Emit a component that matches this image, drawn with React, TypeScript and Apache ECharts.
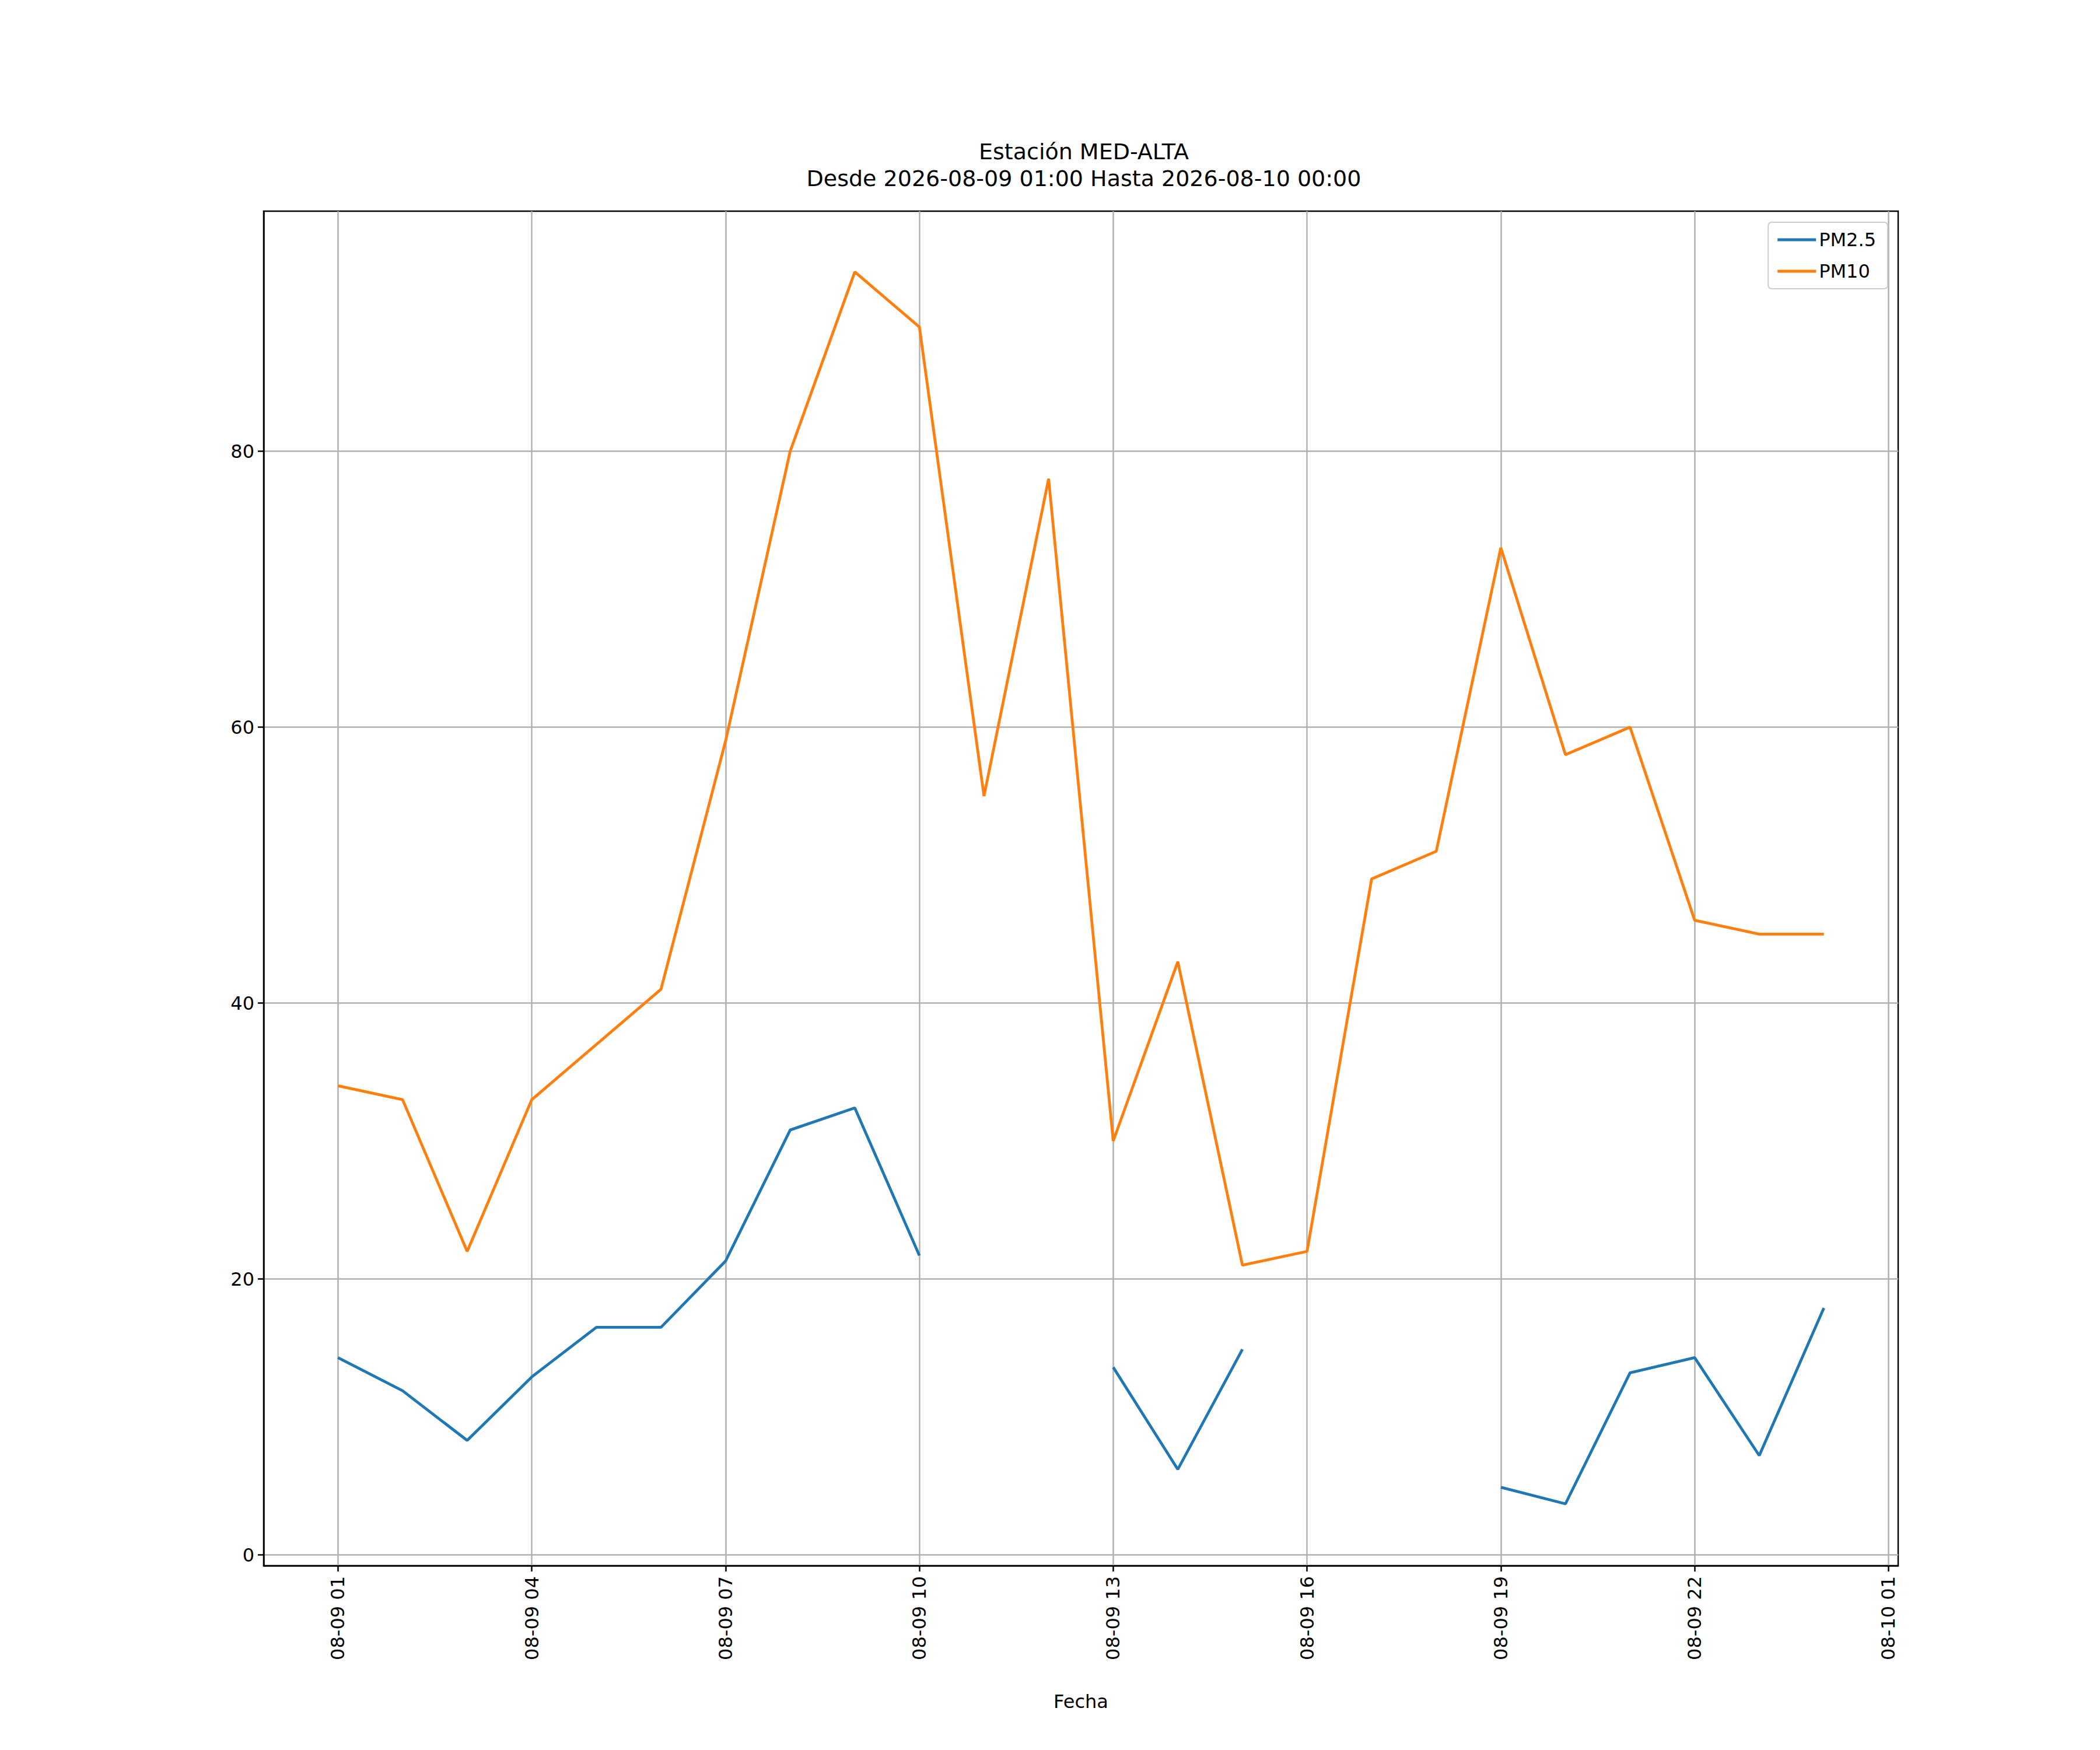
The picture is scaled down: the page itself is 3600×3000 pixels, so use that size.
import { useEffect, useRef } from "react";
import * as echarts from "echarts";

const hours = [1, 2, 3, 4, 5, 6, 7, 8, 9, 10, 11, 12, 13, 14, 15, 16, 17, 18, 19, 20, 21, 22, 23, 24];
const pm25 = [14.3, 11.9, 8.3, 12.9, 16.5, 16.5, 21.3, 30.8, 32.4, 21.7, null, null, 13.6, 6.2, 14.9, null, null, null, 4.9, 3.7, 13.2, 14.3, 7.2, 17.9];
const pm10 = [34, 33, 22, 33, 37, 41, 59, 80, 93, 89, 55, 78, 30, 43, 21, 22, 49, 51, 73, 58, 60, 46, 45, 45];
const xTicks = [1, 4, 7, 10, 13, 16, 19, 22, 25];
const yTicks = [0, 20, 40, 60, 80];

const fmtHour = (h: number) => {
  const day = h >= 24 ? "08-10" : "08-09";
  const hh = h % 24;
  return `${day} ${hh < 10 ? "0" + hh : hh}`;
};

export default function App() {
  const ref = useRef<HTMLDivElement>(null);

  useEffect(() => {
    if (!ref.current) return;
    const chart = echarts.init(ref.current, null, { renderer: "svg" });
    const font = "DejaVu Sans";
    const gridLine = { show: true, lineStyle: { color: "#b0b0b0", width: 2.5 } };
    chart.setOption({
      animation: false,
      backgroundColor: "#fff",
      textStyle: { fontFamily: font },
      title: {
        text: "Estación MED-ALTA\nDesde 2026-08-09 01:00 Hasta 2026-08-10 00:00",
        left: 1845,
        textAlign: "center",
        top: 224,
        textStyle: { fontSize: 38, fontWeight: "normal", color: "#000", lineHeight: 46, fontFamily: font },
      },
      legend: {
        right: 372,
        top: 373,
        orient: "vertical",
        backgroundColor: "#fff",
        borderColor: "#cccccc",
        borderWidth: 2,
        borderRadius: 6,
        padding: [14, 20, 14, 16],
        itemGap: 22,
        itemWidth: 66,
        itemHeight: 5,
        icon: "rect",
        textStyle: { fontSize: 32, color: "#000", fontFamily: font },
        data: ["PM2.5", "PM10"],
      },
      grid: {
        left: 444,
        right: 354,
        top: 354,
        bottom: 324,
        show: true,
        borderColor: "#000",
        borderWidth: 2.5,
        backgroundColor: "transparent",
      },
      xAxis: {
        type: "value",
        min: -0.15,
        max: 25.15,
        name: "Fecha",
        nameLocation: "middle",
        nameGap: 217,
        nameTextStyle: { fontSize: 32, color: "#000", fontFamily: font },
        axisLine: { show: true, onZero: false, lineStyle: { color: "#000", width: 2.5 } },
        axisTick: { show: true, length: 10, customValues: xTicks, lineStyle: { color: "#000", width: 2.5 } },
        axisLabel: {
          customValues: xTicks,
          rotate: 90,
          fontSize: 32,
          color: "#000",
          margin: 18,
          formatter: (v: number) => fmtHour(v),
        },
        splitLine: gridLine,
      },
      yAxis: {
        type: "value",
        min: -0.78,
        max: 97.4,
        axisLine: { show: true, onZero: false, lineStyle: { color: "#000", width: 2.5 } },
        axisTick: { show: true, length: 10, customValues: yTicks, lineStyle: { color: "#000", width: 2.5 } },
        axisLabel: { customValues: yTicks, fontSize: 32, color: "#000", margin: 16 },
        splitLine: gridLine,
      },
      series: [
        {
          name: "PM2.5",
          type: "line",
          data: hours.map((h, i) => [h, pm25[i]]),
          showSymbol: false,
          connectNulls: false,
          color: "#1f77b4",
          lineStyle: { width: 4.8, color: "#1f77b4" },
        },
        {
          name: "PM10",
          type: "line",
          data: hours.map((h, i) => [h, pm10[i]]),
          showSymbol: false,
          color: "#ff7f0e",
          lineStyle: { width: 4.8, color: "#ff7f0e" },
        },
      ],
    });
    return () => chart.dispose();
  }, []);

  return <div ref={ref} style={{ width: 3600, height: 3000 }} />;
}
